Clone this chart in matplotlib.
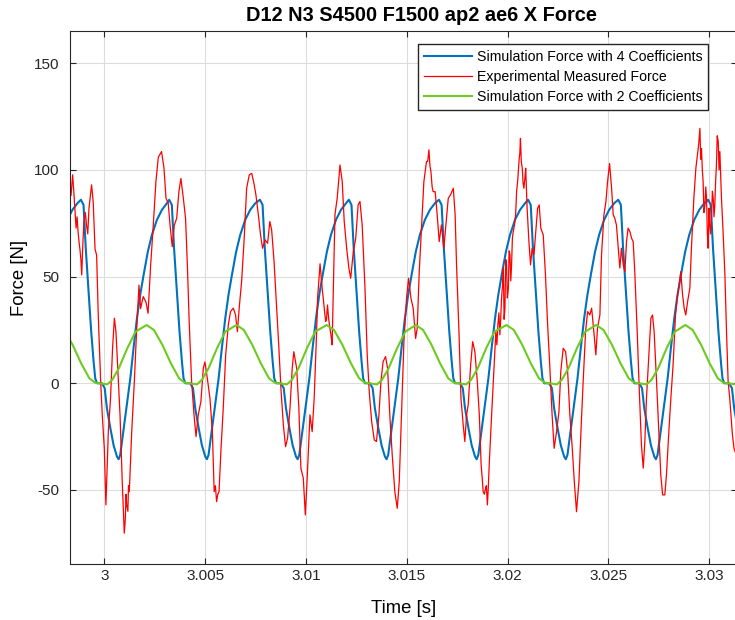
"""Milling X force: two simulation models against the measured signal."""

import matplotlib

matplotlib.use("Agg")
import matplotlib.pyplot as plt
import numpy as np

plt.rcParams["font.family"] = ["Liberation Sans", "DejaVu Sans"]
plt.rcParams["axes.unicode_minus"] = False

# Simulation with 4 coefficients: one tooth pass, offsets (ms) from its peak
blue_shape_ms = [0.00, 0.13, 0.24, 0.38, 0.51, 0.63, 0.71, 0.80, 1.04, 1.18,
                 1.29, 1.46, 1.62, 1.79, 1.87, 1.95, 2.08, 2.25, 2.45, 2.61,
                 2.78, 2.94, 3.11, 3.32, 3.52, 3.77, 4.02, 4.27]
blue_shape_n = [86.0, 83.6, 63.3, 43.0, 24.2, 10.2, 2.3, 0.0, 0.0, -2.3,
                -11.7, -21.0, -29.0, -34.4, -35.6, -33.6, -24.2, -11.7, 2.3, 16.4,
                30.5, 41.4, 50.8, 61.7, 69.5, 76.6, 81.3, 84.4]
blue_peaks_ms = [-5.60, -1.16, 3.22, 7.72, 12.13, 16.60, 21.02, 25.49, 29.95, 34.40]

# Simulation with 2 coefficients: one tooth pass, offsets (ms) from its peak
green_shape_ms = [0.00, 0.36, 0.78, 1.20, 1.61, 1.89, 2.10, 2.35, 2.50, 2.74,
                  3.07, 3.49, 3.90]
green_shape_n = [27.3, 25.0, 18.0, 9.4, 2.3, 0.3, 0.0, -0.3, -0.5, 1.6,
                 7.0, 16.4, 24.2]
green_peaks_ms = [-6.80, -2.35, 2.10, 6.56, 11.03, 15.45, 19.95, 24.40, 28.82, 33.25]

# Experimental measured force, main trace
red_ms = [
    -1.70, -1.57, -1.50, -1.40, -1.30, -1.21, -1.12, -1.01, -0.88, -0.76,
    -0.63, -0.55, -0.46, -0.38, -0.30, -0.18, -0.10, 0.00, 0.08, 0.20,
    0.31, 0.41, 0.50, 0.58, 0.66, 0.78, 0.89, 0.99, 1.11, 1.24,
    1.36, 1.49, 1.60, 1.72, 1.80, 1.93, 2.07, 2.17, 2.30, 2.43,
    2.56, 2.68, 2.84, 2.96, 3.06, 3.17, 3.26, 3.37, 3.47, 3.59,
    3.70, 3.80, 3.92, 4.03, 4.12, 4.21, 4.33, 4.45, 4.55, 4.66,
    4.79, 4.91, 4.99, 5.11, 5.24, 5.36, 5.45, 5.57, 5.69, 5.79,
    5.90, 6.02, 6.15, 6.26, 6.40, 6.51, 6.60, 6.69, 6.81, 6.93,
    7.06, 7.19, 7.31, 7.42, 7.52, 7.64, 7.75, 7.85, 7.97, 8.10,
    8.21, 8.30, 8.42, 8.55, 8.66, 8.76, 8.88, 8.99, 9.09, 9.21,
    9.32, 9.40, 9.54, 9.65, 9.75, 9.87, 9.97, 10.07, 10.20, 10.31,
    10.41, 10.53, 10.64, 10.76, 10.86, 10.98, 11.07, 11.19, 11.30, 11.40,
    11.44, 11.55, 11.69, 11.80, 11.90, 12.02, 12.13, 12.22, 12.35, 12.47,
    12.59, 12.68, 12.79, 12.93, 13.04, 13.14, 13.26, 13.39, 13.50, 13.62,
    13.72, 13.83, 13.95, 14.05, 14.16, 14.28, 14.41, 14.53, 14.63, 14.74,
    14.86, 14.99, 15.09, 15.21, 15.32, 15.44, 15.52, 15.62, 15.74, 15.85,
    15.98, 16.10, 16.20, 16.31, 16.41, 16.51, 16.61, 16.72, 16.84, 16.94,
    17.06, 17.17, 17.31, 17.40, 17.47, 17.59, 17.69, 17.80, 17.88, 17.97,
    18.05, 18.17, 18.27, 18.38, 18.50, 18.60, 18.69, 18.79, 18.91, 19.00,
    19.09, 19.21, 19.32, 19.42, 19.52, 19.62, 19.70, 19.79, 19.87, 19.95,
    20.04, 20.12, 20.20, 20.28, 20.40, 20.50, 20.58, 20.64, 20.73, 20.81,
    20.90, 20.97, 21.06, 21.14, 21.22, 21.31, 21.40, 21.49, 21.57, 21.65,
    21.77, 21.88, 21.98, 22.10, 22.21, 22.31, 22.43, 22.55, 22.64, 22.76,
    22.88, 22.98, 23.09, 23.21, 23.31, 23.42, 23.54, 23.64, 23.75, 23.87,
    23.97, 24.08, 24.17, 24.28, 24.38, 24.46, 24.58, 24.66, 24.78, 24.88,
    24.96, 25.06, 25.16, 25.24, 25.32, 25.40, 25.49, 25.57, 25.65, 25.74,
    25.82, 25.90, 25.98, 26.07, 26.15, 26.23, 26.31, 26.43, 26.53, 26.64,
    26.73, 26.81, 26.89, 27.01, 27.11, 27.19, 27.27, 27.39, 27.50, 27.60,
    27.69, 27.80, 27.88, 28.00, 28.10, 28.21, 28.33, 28.43, 28.51, 28.59,
    28.68, 28.76, 28.84, 28.93, 29.04, 29.12, 29.24, 29.34, 29.42, 29.54,
    29.62, 29.70, 29.79, 29.87, 29.95, 30.03, 30.12, 30.20, 30.28, 30.36,
    30.45, 30.53, 30.61, 30.69, 30.78, 30.86, 30.94, 31.02, 31.14, 31.23,
    31.40,
]
red_n = [
    94.5, 97.7, 88.0, 72.7, 71.0, 63.0, 50.8, 75.8, 74.0, 82.0,
    93.0, 85.0, 63.0, 60.0, 32.0, 0.8, -14.8, -30.5, -57.0, -22.7,
    -7.0, 16.4, 30.5, 24.0, 8.6, -14.8, -46.0, -70.3, -57.0, -50.8,
    -22.7, 0.8, 24.2, 46.0, 35.0, 40.6, 38.0, 32.8, 55.5, 74.2,
    94.5, 106.0, 108.6, 100.8, 86.7, 84.4, 74.2, 64.0, 74.0, 77.3,
    89.8, 96.0, 86.7, 77.3, 55.5, 29.0, 0.8, -14.8, -25.0, -14.8,
    -8.6, 7.0, 10.0, 2.3, -7.0, -22.7, -50.8, -55.5, -50.8, -30.5,
    -11.7, 13.3, 27.3, 33.6, 35.2, 32.0, 24.2, 35.2, 47.7, 66.4,
    91.4, 97.7, 98.4, 93.8, 88.3, 79.0, 69.5, 63.3, 67.2, 65.6,
    75.8, 71.9, 57.0, 35.2, 16.4, -2.3, -19.5, -29.7, -25.8, -11.7,
    7.0, 14.8, 7.0, -11.7, -39.8, -44.5, -61.7, -43.0, -14.8, -22.7,
    -7.0, 24.2, 47.7, 49.2, 39.8, 29.0, 36.7, 25.8, 18.0, 60.0,
    79.0, 86.7, 102.3, 94.5, 75.8, 63.3, 54.0, 49.2, 61.7, 68.0,
    83.6, 85.2, 74.2, 44.5, 13.3, -3.9, -18.0, -26.6, -27.3, -14.8,
    0.8, 10.2, 12.5, 7.0, -14.8, -33.6, -50.8, -58.6, -46.0, -14.8,
    19.5, 39.8, 49.2, 39.8, 35.2, 21.0, 25.8, 52.3, 74.2, 94.5,
    103.9, 109.4, 99.2, 89.8, 89.8, 79.0, 66.4, 74.2, 63.3, 74.2,
    86.7, 88.3, 91.4, 79.0, 55.5, 24.2, -7.0, -19.5, -27.3, -14.8,
    -10.0, 8.6, 19.5, 14.8, 0.8, -14.8, -38.3, -50.8, -49.2, -57.0,
    -38.3, -14.8, 5.5, 24.2, 27.3, 22.7, 39.8, 54.0, 35.2, 55.5,
    44.5, 60.2, 55.5, 71.0, 79.0, 94.5, 105.5, 114.8, 100.8, 91.4,
    100.8, 82.0, 66.4, 55.5, 63.3, 60.2, 71.0, 82.0, 83.6, 72.7,
    69.5, 50.8, 29.0, 7.0, -14.8, -30.5, -22.7, -13.3, 5.5, 16.4,
    14.8, 5.5, -14.8, -30.5, -46.0, -60.2, -46.0, -22.7, 0.8, 24.2,
    33.6, 32.0, 35.2, 24.2, 13.3, 25.8, 32.0, 60.0, 79.0, 85.2,
    94.5, 103.0, 91.4, 79.0, 77.3, 74.2, 63.3, 54.0, 63.3, 55.5,
    52.3, 66.4, 72.7, 71.0, 68.0, 66.4, 52.3, 24.2, -2.3, -28.9,
    -39.8, -27.3, -7.0, 13.3, 30.5, 32.0, 24.2, 0.8, -22.7, -43.0,
    -52.3, -52.3, -43.0, -22.7, -7.0, 8.6, 32.0, 41.4, 46.0, 52.3,
    41.4, 35.2, 32.0, 38.3, 44.5, 63.3, 86.7, 100.8, 107.0, 119.5,
    110.0, 94.5, 83.6, 86.7, 63.3, 74.2, 79.0, 86.7, 83.6, 102.3,
    113.3, 108.6, 86.7, 71.0, 50.8, 24.2, 0.8, -7.0, -22.7, -30.5,
    -35.0,
]

# Experimental measured force, extra points where the trace is fuzzy
red_fuzz_ms = [
    -1.65, -1.45, -1.35, -1.25, -1.16, -1.06, -0.94, -0.82,
    0.94, 1.04, 1.08, 1.17, 1.20, 5.51, 5.63,
    10.58, 10.70, 10.81, 10.92, 11.02, 11.13, 11.25,
    16.04, 16.15, 16.26, 18.74, 18.85, 18.95, 19.04,
    19.47, 19.57, 19.66, 19.75, 19.83, 19.91, 19.99, 20.08, 20.16, 20.24,
    20.34, 20.45, 20.61, 20.68, 20.77, 20.86, 20.94,
    29.48, 29.58, 29.66, 29.74, 29.83, 29.91, 29.99, 30.07, 30.16, 30.24,
    30.32, 30.40, 30.49, 30.57,
]
red_fuzz_n = [
    88.0, 80.0, 78.0, 66.0, 58.0, 66.0, 80.0, 70.0,
    -58.0, -64.0, -52.0, -60.0, -48.0, -48.0, -52.0,
    40.0, 56.0, 44.0, 34.0, 30.0, 30.0, 22.0,
    104.0, 102.0, 92.0, -44.0, -52.0, -48.0, -50.0,
    18.0, 33.0, 30.0, 46.0, 30.0, 58.0, 40.0, 62.0, 48.0, 68.0,
    74.0, 90.0, 108.0, 104.0, 94.0, 96.0, 90.0,
    112.0, 105.0, 100.0, 80.0, 92.0, 70.0, 82.0, 70.0, 90.0, 78.0,
    95.0, 116.0, 100.0, 98.0,
]

x_ticks = [3.0, 3.005, 3.01, 3.015, 3.02, 3.025, 3.03]
x_tick_labels = ["3", "3.005", "3.01", "3.015", "3.02", "3.025", "3.03"]
y_ticks = [-50, 0, 50, 100, 150]
y_tick_labels = ["-50", "0", "50", "100", "150"]


def repeat_pass(peaks_ms, shape_ms, shape_n):
    """Lay the read tooth-pass shape at every read peak time."""
    t = np.concatenate([p + np.asarray(shape_ms) for p in peaks_ms])
    f = np.tile(shape_n, len(peaks_ms))
    return 3.0 + t / 1000.0, f


blue_t, blue_f = repeat_pass(blue_peaks_ms, blue_shape_ms, blue_shape_n)
green_t, green_f = repeat_pass(green_peaks_ms, green_shape_ms, green_shape_n)

red_all_ms = np.concatenate([red_ms, red_fuzz_ms])
red_all_n = np.concatenate([red_n, red_fuzz_n])
order = np.argsort(red_all_ms, kind="stable")
red_t = 3.0 + red_all_ms[order] / 1000.0
red_f = red_all_n[order]

fig = plt.figure(figsize=(7.35, 6.2), dpi=100)
ax = fig.add_axes([70 / 735, 56 / 620, 667 / 735, 533 / 620])

ax.plot(blue_t, blue_f, color="#0072BD", lw=1.5,
        label="Simulation Force with 4 Coefficients")
ax.plot(red_t, red_f, color="#FF0000", lw=0.9,
        label="Experimental Measured Force")
ax.plot(green_t, green_f, color="#6CCB1E", lw=1.5,
        label="Simulation Force with 2 Coefficients")

ax.set_xlim(2.998299, 3.03138)
ax.set_ylim(-84.7, 165.1)
ax.set_xticks(x_ticks)
ax.set_xticklabels(x_tick_labels)
ax.set_yticks(y_ticks)
ax.set_yticklabels(y_tick_labels)
ax.tick_params(direction="in", length=4, width=0.8, top=True, right=True,
               labelsize=11, colors="#262626")
ax.tick_params(axis="y", pad=8)
for s in ax.spines.values():
    s.set_color("#262626")
    s.set_linewidth(0.8)
ax.grid(True, color="#dcdcdc", lw=0.8)
ax.set_axisbelow(True)

ax.set_title("D12 N3 S4500 F1500 ap2 ae6 X Force", fontsize=14.4,
             fontweight="bold", pad=7, x=(421 - 70) / 667)
ax.set_xlabel("Time [s]", fontsize=13.3, labelpad=12)
ax.set_ylabel("Force [N]", fontsize=13.3)
ax.yaxis.set_label_coords(-0.063, 0.537)

ax.legend(loc="upper right", bbox_to_anchor=((708 - 70) / 667, 0.9756),
          borderaxespad=0, fontsize=10.2, fancybox=False, edgecolor="#262626",
          framealpha=1, handlelength=3.45, handletextpad=0.3,
          labelspacing=0.45, borderpad=0.4)

fig.savefig("out.png", dpi=100)
